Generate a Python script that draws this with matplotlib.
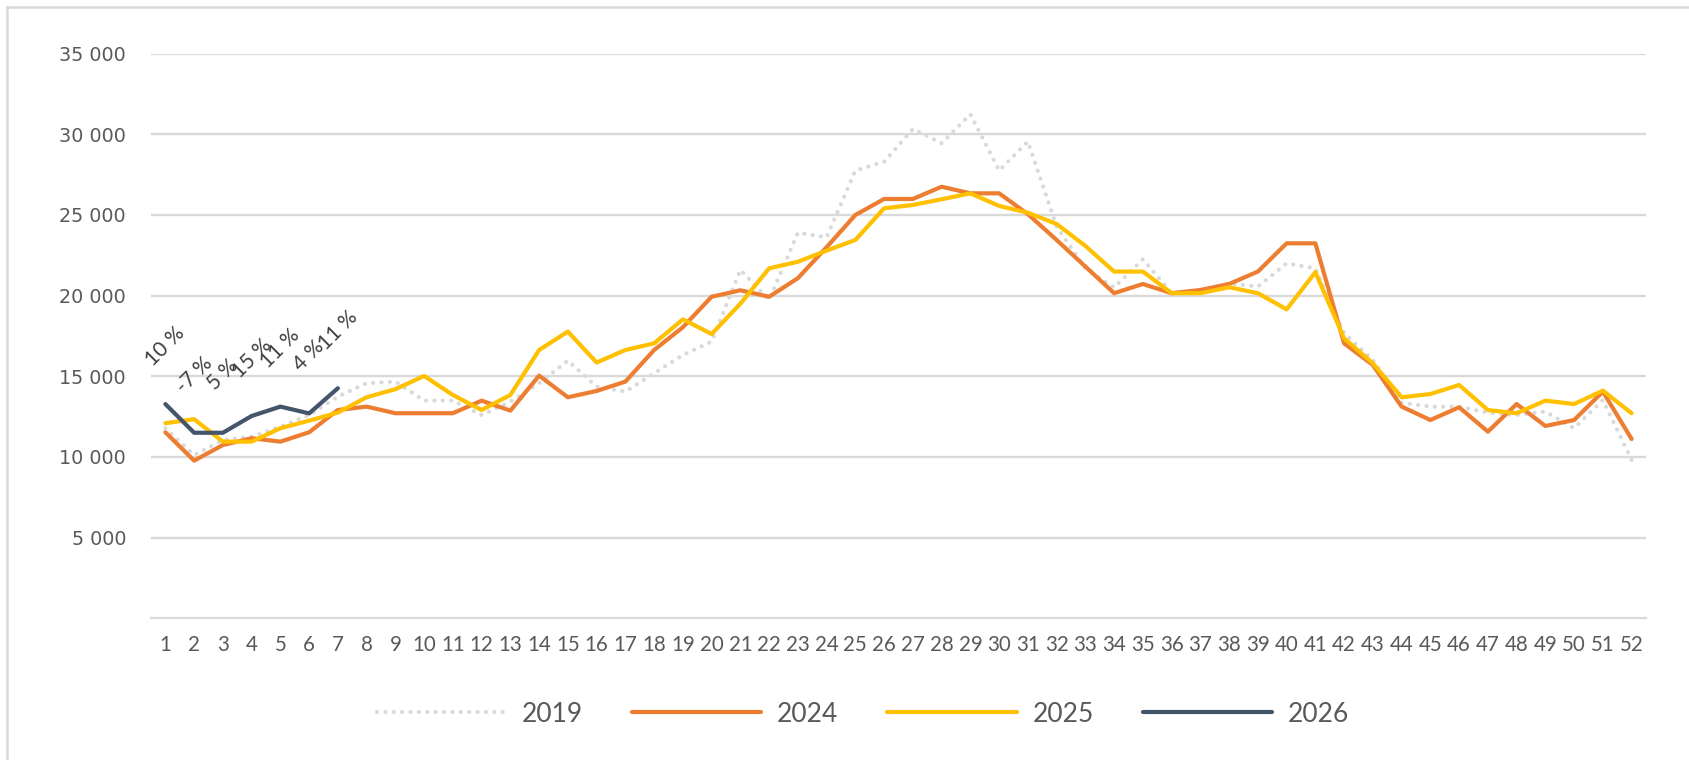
import matplotlib
matplotlib.use("Agg")
import matplotlib.pyplot as plt
from matplotlib.lines import Line2D

weeks = list(range(1, 53))

y2019 = [11780, 10120, 11050, 11260, 11880, 12600, 13740, 14570, 14670, 13490,
         13490, 12600, 13430, 14570, 15970, 14360, 14050, 15190, 16320, 17150,
         21590, 19730, 23900, 23610, 27750, 28300, 30330, 29440, 31240, 27750,
         29550, 24280, 21690, 20500, 22250, 20150, 20300, 20760, 20560, 22000,
         21690, 17660, 16010, 13360, 13120, 13120, 12740, 12600, 12810, 11780,
         13530, 9810]

y2024 = [11530, 9770, 10740, 11160, 10950, 11530, 12910, 13120, 12710, 12710,
         12710, 13490, 12870, 15040, 13700, 14090, 14670, 16630, 18040, 19930,
         20330, 19930, 21080, 23000, 25000, 25990, 25990, 26750, 26340, 26340,
         25050, 23450, 21800, 20150, 20720, 20150, 20350, 20720, 21490, 23240,
         23240, 17040, 15700, 13120, 12290, 13080, 11570, 13280, 11920, 12290,
         14050, 11110]

y2025 = [12090, 12340, 10950, 10950, 11780, 12250, 12750, 13700, 14200, 15020,
         13840, 12910, 13840, 16630, 17770, 15850, 16630, 17040, 18530, 17620,
         19500, 21690, 22100, 22790, 23450, 25410, 25620, 25970, 26340, 25560,
         25140, 24440, 23080, 21490, 21490, 20150, 20150, 20520, 20150, 19150,
         21450, 17350, 15800, 13700, 13900, 14460, 12910, 12710, 13490, 13280,
         14110, 12710]

weeks2026 = [1, 2, 3, 4, 5, 6, 7]
y2026 = [13280, 11500, 11500, 12540, 13120, 12700, 14260]
pct2026 = ["10 %", "-7 %", "5 %", "15 %", "11 %", "4 %", "11 %"]

series_labels = ["2019", "2024", "2025", "2026"]
yticks = [5000, 10000, 15000, 20000, 25000, 30000, 35000]
ytick_labels = ["5 000", "10 000", "15 000", "20 000", "25 000", "30 000", "35 000"]

W, H = 1689, 760
fig = plt.figure(figsize=(W / 100, H / 100), dpi=100)
fig.patch.set_facecolor("white")

# outer frame (top and left visible)
fig.add_artist(Line2D([7 / W, 1], [1 - 7 / H, 1 - 7 / H], color="#D9D9D9", lw=1.8,
                      transform=fig.transFigure))
fig.add_artist(Line2D([7 / W, 7 / W], [0, 1 - 7 / H], color="#D9D9D9", lw=1.8,
                      transform=fig.transFigure))

left, right = 151 / W, 1646 / W
bottom, top = 1 - 618.3 / H, 1 - 53.6 / H
ax = fig.add_axes([left, bottom, right - left, top - bottom])

grid_c = "#D9D9D9"
text_c = "#595959"

ax.set_xlim(0.5, 52.5)
ax.set_ylim(0, 35000)
for s in ["top", "right", "left"]:
    ax.spines[s].set_visible(False)
ax.spines["bottom"].set_color(grid_c)
ax.spines["bottom"].set_linewidth(1.6)

ax.set_yticks(yticks)
ax.set_yticklabels(ytick_labels, fontfamily="DejaVu Sans", fontsize=13.8, color=text_c)
ax.set_xticks(weeks)
ax.set_xticklabels([str(w) for w in weeks], fontfamily="Lato", fontsize=14.8, color=text_c)
ax.tick_params(axis="y", length=0, pad=18)
ax.tick_params(axis="x", length=0, pad=12)
ax.yaxis.grid(True, color=grid_c, lw=1.7)
ax.set_axisbelow(True)

l19, = ax.plot(weeks, y2019, color="#D9D9D9", lw=3.0, linestyle=(0, (0.01, 2.0)),
               dash_capstyle="round", solid_capstyle="round", label=series_labels[0])
l24, = ax.plot(weeks, y2024, color="#ED7D31", lw=3.0, solid_capstyle="round",
               solid_joinstyle="round", label=series_labels[1])
l25, = ax.plot(weeks, y2025, color="#FFC000", lw=3.0, solid_capstyle="round",
               solid_joinstyle="round", label=series_labels[2])
l26, = ax.plot(weeks2026, y2026, color="#44546A", lw=3.0, solid_capstyle="round",
               solid_joinstyle="round", label=series_labels[3])

for w, v, t in zip(weeks2026, y2026, pct2026):
    ax.annotate(t, (w, v), xytext=(0, 58), textcoords="offset pixels",
                ha="center", va="center", rotation=45,
                fontfamily="Lato", fontsize=15, color="#404040",
                annotation_clip=False)

leg = fig.legend(handles=[l19, l24, l25, l26], labels=series_labels,
                 loc="center", bbox_to_anchor=(863 / W, 1 - 714 / H),
                 ncol=4, frameon=False, prop={"family": "Lato", "size": 19},
                 handlelength=4.9, handletextpad=0.6, columnspacing=1.85)
for t in leg.get_texts():
    t.set_color(text_c)

fig.savefig("out.png", dpi=100, facecolor="white")
